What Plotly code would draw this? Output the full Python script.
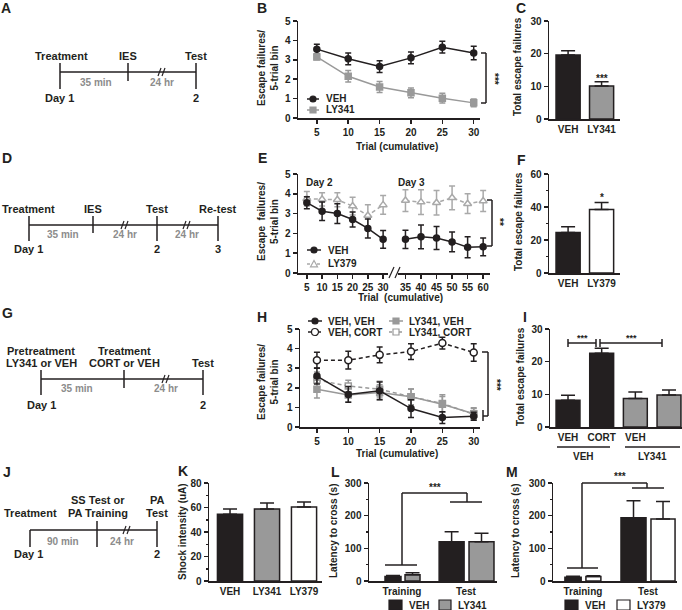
import plotly.graph_objects as go

W, H = 682, 610
INK = '#231f20'
GRAY = '#999999'
LGRAY = '#a9a9a9'
TGRAY = '#8c8c8c'
FONT = 'Liberation Sans'

# ---------------- data ----------------
trials = [5, 10, 15, 20, 25, 30]

# B
b_veh = [3.55, 3.05, 2.65, 3.1, 3.65, 3.35]
b_veh_err = [0.25, 0.3, 0.3, 0.3, 0.3, 0.35]
b_ly341 = [3.15, 2.15, 1.6, 1.3, 1.02, 0.78]
b_ly341_err = [0.15, 0.3, 0.28, 0.25, 0.25, 0.2]

# C
c_groups = ['VEH', 'LY341']
c_vals = [19.6, 10.1]
c_err = [1.3, 1.3]

# E
e_day2_trials = [5, 10, 15, 20, 25, 30]
e_day3_trials = [35, 40, 45, 50, 55, 60]
e_veh_d2 = [3.55, 3.12, 3.0, 2.7, 2.25, 1.7]
e_veh_d2_err = [0.3, 0.47, 0.5, 0.38, 0.48, 0.45]
e_veh_d3 = [1.7, 1.83, 1.77, 1.57, 1.3, 1.32]
e_veh_d3_err = [0.46, 0.6, 0.58, 0.5, 0.53, 0.45]
e_ly379_d2 = [3.75, 3.72, 3.7, 3.38, 2.9, 3.44]
e_ly379_d2_err = [0.36, 0.33, 0.35, 0.45, 0.55, 0.47]
e_ly379_d3 = [3.66, 3.58, 3.55, 3.8, 3.5, 3.64]
e_ly379_d3_err = [0.55, 0.63, 0.62, 0.6, 0.5, 0.53]

# F
f_groups = ['VEH', 'LY379']
f_vals = [24.5, 38.5]
f_err = [3.5, 4.2]

# H
h_veh_veh = [2.6, 1.66, 1.85, 0.94, 0.48, 0.55]
h_veh_veh_err = [0.4, 0.4, 0.45, 0.45, 0.3, 0.2]
h_veh_cort = [3.41, 3.41, 3.68, 3.85, 4.28, 3.8]
h_veh_cort_err = [0.4, 0.45, 0.4, 0.4, 0.3, 0.45]
h_ly_veh = [1.93, 1.63, 1.76, 1.54, 1.16, 0.68]
h_ly_veh_err = [0.45, 0.35, 0.4, 0.4, 0.4, 0.3]
h_ly_cort = [2.4, 2.09, 1.93, 1.54, 1.2, 0.65]
h_ly_cort_err = [0.4, 0.3, 0.4, 0.4, 0.45, 0.3]

# I
i_labels = ['VEH', 'CORT', 'VEH', 'CORT']
i_vals = [8.2, 22.6, 8.7, 9.8]
i_err = [1.5, 1.5, 2.0, 1.5]

# K
k_groups = ['VEH', 'LY341', 'LY379']
k_vals = [54.5, 58.8, 60.4]
k_err = [4.3, 4.9, 4.1]

# L
phases = ['Training', 'Test']
l_veh = [14, 120]
l_veh_err = [3, 31]
l_ly341 = [19.5, 120]
l_ly341_err = [6, 26]

# M
m_veh = [11.3, 194]
m_veh_err = [3, 52]
m_ly379 = [13.4, 190]
m_ly379_err = [3, 53]

# ---------------- helpers ----------------
def fx(x):
    return x / W


def fy(y):
    return 1 - y / H


shapes = []
annotations = []


def seg(x0, y0, x1, y1, color=INK, w=1.5, dash='solid'):
    shapes.append(dict(type='line', xref='paper', yref='paper', x0=fx(x0), y0=fy(y0),
                       x1=fx(x1), y1=fy(y1), line=dict(color=color, width=w, dash=dash)))


def rect(x0, y0, x1, y1, fill, line=INK, w=1.2):
    shapes.append(dict(type='rect', xref='paper', yref='paper', x0=fx(x0), y0=fy(y1),
                       x1=fx(x1), y1=fy(y0), fillcolor=fill, line=dict(color=line, width=w)))


def circ(cx, cy, r, fill, line=INK, w=1.2):
    shapes.append(dict(type='circle', xref='paper', yref='paper', x0=fx(cx - r), y0=fy(cy + r),
                       x1=fx(cx + r), y1=fy(cy - r), fillcolor=fill, line=dict(color=line, width=w)))


def tri(cx, cy, r, fill, line=INK, w=1.2):
    p = 'M %f,%f L %f,%f L %f,%f Z' % (fx(cx - r), fy(cy + r * 0.8), fx(cx + r), fy(cy + r * 0.8),
                                       fx(cx), fy(cy - r))
    shapes.append(dict(type='path', xref='paper', yref='paper', path=p, fillcolor=fill,
                       line=dict(color=line, width=w)))


def txt(x, y, s, size=10, color=INK, angle=0, xanchor='center', bold=True):
    annotations.append(dict(xref='paper', yref='paper', x=fx(x), y=fy(y), text=s, showarrow=False,
                            xanchor=xanchor, yanchor='middle', textangle=angle,
                            font=dict(family=FONT, size=size, color=color,
                                      weight='bold' if bold else 'normal')))


def brk(x, y):
    seg(x - 4, y + 4, x - 1, y - 4, w=1.2)
    seg(x, y + 4, x + 3, y - 4, w=1.2)


tickfont = dict(family=FONT, size=10, color=INK, weight='bold')
axis_common = dict(showline=True, linecolor=INK, linewidth=1.5, ticks='outside', ticklen=4,
                   tickwidth=1.5, tickcolor=INK, showgrid=False, zeroline=False,
                   tickfont=tickfont, fixedrange=True, automargin=False)

layout_axes = {}


def axes(i, xpx, ypx, xr, yr, xkw=None, ykw=None, yid=None):
    xname = 'xaxis' if i == 1 else 'xaxis%d' % i
    yname = 'yaxis' if i == 1 else 'yaxis%d' % i
    yref = yid if yid else ('y' if i == 1 else 'y%d' % i)
    xa = dict(axis_common, domain=[fx(xpx[0]), fx(xpx[1])], range=xr, anchor=yref)
    xa.update(xkw or {})
    layout_axes[xname] = xa
    if yid is None:
        ya = dict(axis_common, domain=[fy(ypx[1]), fy(ypx[0])], range=yr,
                  anchor='x' if i == 1 else 'x%d' % i)
        ya.update(ykw or {})
        layout_axes[yname] = ya


fig = go.Figure()


def line_trace(x, y, err, color, symbol, filled, dash, xa, ya, size=6):
    fig.add_trace(go.Scatter(
        x=x, y=y, mode='lines+markers', xaxis=xa, yaxis=ya, showlegend=False, cliponaxis=False,
        line=dict(color=color, width=1.5, dash=dash),
        marker=dict(symbol=symbol, size=size, color=color if filled else 'white',
                    line=dict(color=color, width=1.5)),
        error_y=dict(type='data', array=err, color=color, thickness=1.5, width=3)))


def bar_trace(x, y, err, colors, xa, ya, width, offset=None, ecolor=INK):
    kw = dict(width=width)
    if offset is not None:
        kw['offset'] = offset
    fig.add_trace(go.Bar(
        x=x, y=y, xaxis=xa, yaxis=ya, showlegend=False, cliponaxis=False,
        marker=dict(color=colors, line=dict(color=INK, width=1.5)),
        error_y=dict(type='data', symmetric=False, array=err, arrayminus=[0] * len(y),
                     color=ecolor, thickness=1.5, width=7), **kw))


minor10 = dict(dtick=10, ticklen=2, tickwidth=1.5, tickcolor=INK, ticks='outside')
minor50 = dict(dtick=50, ticklen=2, tickwidth=1.5, tickcolor=INK, ticks='outside')

# ---------------- panel B ----------------
axes(1, (298, 480), (21, 118), [2, 31], [0, 5],
     xkw=dict(tickvals=trials), ykw=dict(dtick=1))
line_trace(trials, b_veh, b_veh_err, INK, 'circle', True, 'solid', 'x', 'y')
line_trace(trials, b_ly341, b_ly341_err, GRAY, 'square', True, 'solid', 'x', 'y')

# ---------------- panel C ----------------
axes(2, (549, 620), (21, 119), [-0.57, 1.55], [0, 30],
     xkw=dict(tickvals=list(range(len(c_groups))), ticktext=c_groups, ticks=''),
     ykw=dict(dtick=10))
bar_trace(list(range(len(c_groups))), c_vals, c_err, [INK, GRAY], 'x2', 'y2', 0.72)

# ---------------- panel E ----------------
axes(3, (298, 388), (174, 273), [2.1, 31.6], [0, 5],
     xkw=dict(tickvals=e_day2_trials), ykw=dict(dtick=1))
axes(4, (398, 490), None, [32.6, 62.2], None, xkw=dict(tickvals=e_day3_trials), yid='y3')
line_trace(e_day2_trials, e_ly379_d2, e_ly379_d2_err, LGRAY, 'triangle-up', False, '4px,3px', 'x3', 'y3', 7)
line_trace(e_day3_trials, e_ly379_d3, e_ly379_d3_err, LGRAY, 'triangle-up', False, '4px,3px', 'x4', 'y3', 7)
line_trace(e_day2_trials, e_veh_d2, e_veh_d2_err, INK, 'circle', True, 'solid', 'x3', 'y3')
line_trace(e_day3_trials, e_veh_d3, e_veh_d3_err, INK, 'circle', True, 'solid', 'x4', 'y3')

# ---------------- panel F ----------------
axes(5, (549, 620), (174, 273), [-0.57, 1.55], [0, 60],
     xkw=dict(tickvals=list(range(len(f_groups))), ticktext=f_groups, ticks=''),
     ykw=dict(dtick=20, minor=minor10))
bar_trace(list(range(len(f_groups))), f_vals, f_err, [INK, 'white'], 'x5', 'y5', 0.72)

# ---------------- panel H ----------------
axes(6, (300, 480), (329, 427), [2.3, 31], [0, 5],
     xkw=dict(tickvals=trials), ykw=dict(dtick=1))
line_trace(trials, h_ly_cort, h_ly_cort_err, GRAY, 'square', False, '4px,3px', 'x6', 'y6')
line_trace(trials, h_ly_veh, h_ly_veh_err, GRAY, 'square', True, 'solid', 'x6', 'y6')
line_trace(trials, h_veh_veh, h_veh_veh_err, INK, 'circle', True, 'solid', 'x6', 'y6')
line_trace(trials, h_veh_cort, h_veh_cort_err, INK, 'circle', False, '4px,3px', 'x6', 'y6', 7)

# ---------------- panel I ----------------
axes(7, (550, 682), (329, 427), [-0.535, 3.386], [0, 30],
     xkw=dict(tickvals=list(range(len(i_labels))), ticktext=i_labels, ticks=''),
     ykw=dict(dtick=10))
bar_trace(list(range(len(i_labels))), i_vals, i_err, [INK, INK, GRAY, GRAY], 'x7', 'y7', 0.71)

# ---------------- panel K ----------------
axes(8, (209, 322), (483, 581), [-0.568, 2.486], [0, 80],
     xkw=dict(tickvals=list(range(len(k_groups))), ticktext=k_groups, ticks=''),
     ykw=dict(dtick=20, minor=minor10))
bar_trace(list(range(len(k_groups))), k_vals, k_err, [INK, GRAY, 'white'], 'x8', 'y8', 0.68)

# ---------------- panel L ----------------
axes(9, (369, 497), (483, 581), [-0.516, 1.484], [0, 300],
     xkw=dict(ticks=''), ykw=dict(dtick=100, minor=minor50))
bar_trace(phases, l_veh, l_veh_err, INK, 'x9', 'y9', [0.25, 0.39], offset=[-0.266, -0.42])
bar_trace(phases, l_ly341, l_ly341_err, GRAY, 'x9', 'y9', [0.234, 0.39], offset=[0.047, 0.047])

# ---------------- panel M ----------------
axes(10, (553, 677), (483, 581), [-0.46, 1.446], [0, 300],
     xkw=dict(ticks=''), ykw=dict(dtick=100, minor=minor50))
bar_trace(phases, m_veh, m_veh_err, INK, 'x10', 'y10', [0.25, 0.385], offset=[-0.277, -0.415])
bar_trace(phases, m_ly379, m_ly379_err, 'white', 'x10', 'y10', [0.23, 0.37], offset=[0.046, 0.046])

# ---------------- panel letters ----------------
for lx, ly, s in [(6, 8, 'A'), (262, 8, 'B'), (521, 8, 'C'), (7, 158, 'D'), (262, 158, 'E'),
                  (521, 160, 'F'), (7, 313, 'G'), (262, 317, 'H'), (525, 317, 'I'),
                  (7, 472, 'J'), (183, 471, 'K'), (335, 472, 'L'), (512, 472, 'M')]:
    txt(lx, ly, s, size=14)

# ---------------- timelines ----------------
# A
seg(60, 72, 196, 72)
seg(60, 63, 60, 89); seg(128, 63, 128, 81); seg(196, 63, 196, 89)
brk(162, 72)
txt(61, 56, 'Treatment', 11); txt(128, 56, 'IES', 11); txt(196, 56, 'Test', 11)
txt(96, 82, '35 min', 10, TGRAY); txt(162, 82, '24 hr', 10, TGRAY)
txt(59, 98, 'Day 1', 11); txt(196, 98, '2', 11)

# D
seg(29, 225, 218, 225)
seg(29, 216, 29, 241); seg(93, 216, 93, 233); seg(157, 216, 157, 241); seg(218, 216, 218, 241)
brk(125, 225); brk(187, 225)
txt(29, 209, 'Treatment', 11); txt(93, 209, 'IES', 11); txt(157, 209, 'Test', 11)
txt(218, 209, 'Re-test', 11)
txt(63, 234, '35 min', 10, TGRAY); txt(125, 234, '24 hr', 10, TGRAY); txt(187, 234, '24 hr', 10, TGRAY)
txt(29, 249, 'Day 1', 11); txt(157, 249, '2', 11); txt(218, 249, '3', 11)

# G
seg(41, 379, 203, 379)
seg(41, 370, 41, 395); seg(124, 370, 124, 388); seg(203, 370, 203, 395)
brk(166, 379)
txt(41, 351, 'Pretreatment', 11); txt(41, 363, 'LY341 or VEH', 11)
txt(124, 351, 'Treatment', 11); txt(124, 363, 'CORT or VEH', 11)
txt(203, 363, 'Test', 11)
txt(77, 388, '35 min', 10, TGRAY); txt(166, 388, '24 hr', 10, TGRAY)
txt(41, 405, 'Day 1', 11); txt(203, 405, '2', 11)

# J
seg(30, 530, 157, 530)
seg(30, 530, 30, 547); seg(97, 521, 97, 547); seg(157, 521, 157, 547)
brk(127, 530)
txt(30, 513, 'Treatment', 11); txt(98, 500, 'SS Test or', 11); txt(98, 513, 'PA Training', 11)
txt(157, 500, 'PA', 11); txt(157, 513, 'Test', 11)
txt(63, 541, '90 min', 10, TGRAY); txt(122, 541, '24 hr', 10, TGRAY)
txt(29, 554, 'Day 1', 11); txt(157, 554, '2', 11)

# ---------------- axis titles ----------------
txt(268, 68, 'Escape failures/<br>5-trial bin', angle=-90)
txt(397, 146, 'Trial (cumulative)')
txt(518, 67, 'Total escape failures', angle=-90)
txt(268, 222, 'Escape\u00a0 failures/<br>5-trial bin', angle=-90)
txt(400, 298, 'Trial\u00a0 (cumulative)')
txt(518, 222, 'Total escape failures', angle=-90)
txt(268, 382, 'Escape failures/<br>5-trial bin', angle=-90)
txt(397, 453, 'Trial (cumulative)')
txt(520, 377, 'Total escape failures', angle=-90)
txt(182, 532, 'Shock intensity (uA)', angle=-90)
txt(333, 531, 'Latency to cross (s)', angle=-90)
txt(515, 531, 'Latency to cross (s)', angle=-90)

# ---------------- legends (manual) ----------------
# B
seg(307, 99, 319, 99); circ(313, 99, 3, INK)
txt(324, 99, 'VEH', xanchor='left')
seg(307, 110, 319, 110, GRAY); rect(310, 107, 316, 113, GRAY, GRAY)
txt(324, 110, 'LY341', xanchor='left')
# E
seg(307, 250, 321, 250); circ(314, 250, 3, INK)
txt(326, 250, 'VEH', xanchor='left')
seg(307, 264, 321, 264, LGRAY, dash='3px,2px'); tri(314, 264, 3.5, 'white', LGRAY)
txt(326, 264, 'LY379', xanchor='left')
txt(319, 182, 'Day 2'); txt(411, 182, 'Day 3')
# H
seg(308, 321, 322, 321); circ(315, 321, 3, INK)
txt(326, 321, 'VEH, VEH', xanchor='left')
seg(308, 332, 322, 332, dash='3px,2px'); circ(315, 332, 3.5, 'white')
txt(326, 332, 'VEH, CORT', xanchor='left')
seg(389, 321, 403, 321, GRAY); rect(393, 318, 399, 324, GRAY, GRAY)
txt(407, 321, 'LY341, VEH', xanchor='left')
seg(389, 332, 403, 332, GRAY, dash='3px,2px'); rect(393, 329, 399, 335, 'white', GRAY)
txt(407, 332, 'LY341, CORT', xanchor='left')
# L
rect(389, 600, 402, 610, INK); txt(407, 605, 'VEH', xanchor='left')
rect(439, 600, 451, 610, GRAY); txt(456, 605, 'LY341', xanchor='left')
# M
rect(565, 600, 578, 610, INK); txt(583, 605, 'VEH', xanchor='left')
rect(617, 600, 630, 610, 'white'); txt(635, 605, 'LY379', xanchor='left')

# ---------------- significance marks ----------------
# B
seg(481, 53, 486, 53); seg(486, 53, 486, 103); seg(481, 103, 486, 103)
txt(494, 79, '***', angle=90)
# C
txt(602, 79, '***')
# E
seg(487, 200, 492, 200); seg(492, 200, 492, 246); seg(487, 246, 492, 246)
txt(500, 222, '**', angle=90)
# E axis break
seg(389, 278, 394, 267, w=1.2); seg(395, 278, 400, 267, w=1.2)
# F
txt(602, 197, '*')
# H
seg(482, 352, 488, 352); seg(488, 352, 488, 416); seg(483, 416, 488, 416); seg(483, 410, 483, 421)
txt(497, 385, '***', angle=90)
# I
seg(568, 343, 596, 343); seg(568, 339, 568, 347); seg(596, 339, 596, 347)
seg(600, 343, 662, 343); seg(600, 339, 600, 347); seg(662, 339, 662, 347)
txt(582, 338, '***', 9); txt(631, 338, '***', 9)
seg(557, 447, 610, 447); seg(625, 447, 680, 447)
txt(583, 456, 'VEH'); txt(652, 456, 'LY341')
# L
seg(385, 565, 417, 565); seg(402, 565, 402, 493); seg(402, 493, 467, 493); seg(467, 493, 467, 502)
seg(450, 502, 482, 502)
txt(435, 487, '***')
# M
seg(567, 568, 598, 568); seg(582, 568, 582, 483); seg(582, 483, 647, 483); seg(647, 483, 647, 488)
seg(632, 488, 664, 488)
txt(620, 476, '***')

fig.update_layout(
    width=W, height=H, margin=dict(l=0, r=0, t=0, b=0),
    paper_bgcolor='white', plot_bgcolor='white', showlegend=False, barmode='overlay',
    font=dict(family=FONT, size=10, color=INK, weight='bold'),
    shapes=shapes, annotations=annotations, **layout_axes)

fig.write_html('out.html', config={'displayModeBar': False, 'staticPlot': True},
               post_script="document.body.style.margin='0px';")
